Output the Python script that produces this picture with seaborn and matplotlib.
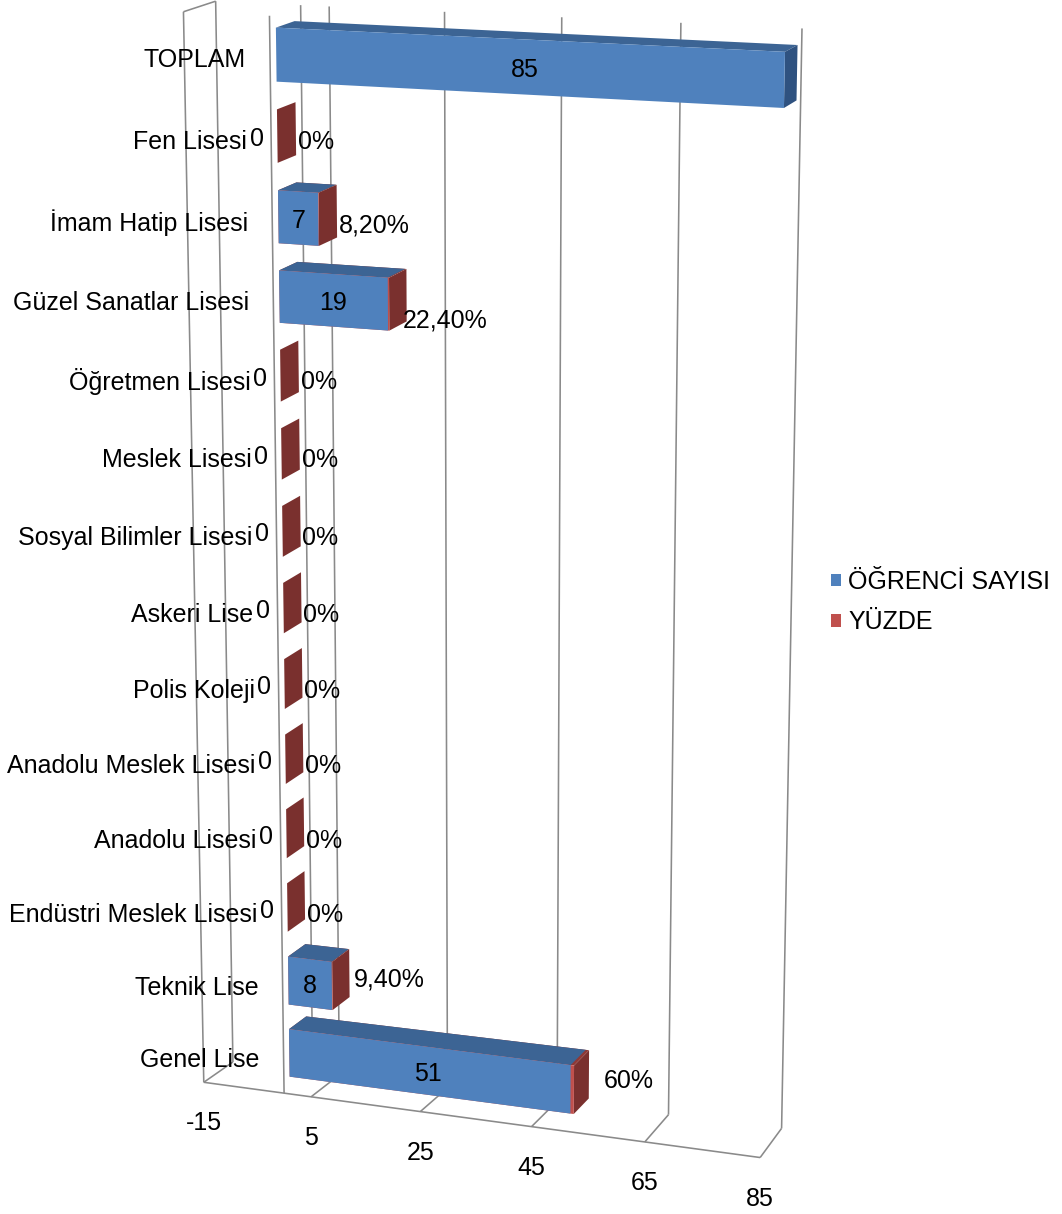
import numpy as np
import pandas as pd
import matplotlib
matplotlib.use("Agg")
import matplotlib.pyplot as plt
import matplotlib.transforms as mtransforms
from matplotlib.patches import Polygon, Patch
import seaborn as sns

# ---------------------------------------------------------------- data
categories = ["TOPLAM", "Fen Lisesi", "İmam Hatip Lisesi", "Güzel Sanatlar Lisesi",
              "Öğretmen Lisesi", "Meslek Lisesi", "Sosyal Bilimler Lisesi", "Askeri Lise",
              "Polis Koleji", "Anadolu Meslek Lisesi", "Anadolu Lisesi",
              "Endüstri Meslek Lisesi", "Teknik Lise", "Genel Lise"]
ogrenci_sayisi = [85, 0, 7, 19, 0, 0, 0, 0, 0, 0, 0, 0, 8, 51]
yuzde = [np.nan, 0.0, 0.082, 0.224, 0.0, 0.0, 0.0, 0.0, 0.0, 0.0, 0.0, 0.0, 0.094, 0.60]
value_ticks = [-15, 5, 25, 45, 65, 85]
series_names = ["ÖĞRENCİ SAYISI", "YÜZDE"]

# ---------------------------------------------------------------- style
W, H, DPI = 1062, 1214, 100
BLUE, BLUE_TOP, BLUE_SIDE = "#4F81BD", "#3C6494", "#2F5280"
RED, RED_TOP, RED_SIDE = "#C0504D", "#8E3936", "#7A302E"
GRID = "#8A8A8A"
FONT = 18
Z_FRONT, Z_BACK = 0.2, 0.8          # bar depth inside the 3-D box
BAR_W = 0.66

sns.set_theme(style="white")
plt.rcParams["font.family"] = ["Liberation Sans", "DejaVu Sans"]

# ---------------------------------------------------------------- 3-D box projection
# Corners of the front (z=0) and back (z=1) planes of the plot box, in pixels.
VMIN, VMAX = value_ticks[0], value_ticks[-1]
N = len(categories)
front_src = [(VMIN, N), (VMIN, 0), (0, N), (0, 0), (VMAX, 0), (VMAX, N)]
front_dst = [(183, 12), (203, 1082), (270, 16), (285, 1093), (760, 1158), (781, 39)]
back_src = [(VMIN, N), (5, N), (25, N), (45, N), (65, N), (VMAX, N),
            (VMIN, 0), (65, 0), (VMAX, 0)]
back_dst = [(216, 1), (329, 6), (444, 12), (562, 17), (681, 23), (802, 29),
            (233, 1063), (668, 1112), (782, 1130)]


def fit_homography(src, dst):
    src = np.asarray(src, float)
    dst = np.asarray(dst, float)
    so, ss = src.mean(0), src.std(0)
    do, ds = dst.mean(0), dst.std(0)
    S = np.array([[1 / ss[0], 0, -so[0] / ss[0]], [0, 1 / ss[1], -so[1] / ss[1]], [0, 0, 1]])
    D = np.array([[1 / ds[0], 0, -do[0] / ds[0]], [0, 1 / ds[1], -do[1] / ds[1]], [0, 0, 1]])
    sn = (src - so) / ss
    dn = (dst - do) / ds
    rows = []
    for (x, y), (u, v) in zip(sn, dn):
        rows.append([x, y, 1, 0, 0, 0, -u * x, -u * y, -u])
        rows.append([0, 0, 0, x, y, 1, -v * x, -v * y, -v])
    _, _, vt = np.linalg.svd(np.array(rows))
    hm = np.linalg.inv(D) @ vt[-1].reshape(3, 3) @ S
    return hm / hm[2, 2]


H_FRONT = fit_homography(front_src, front_dst)
H_BACK = fit_homography(back_src, back_dst)


def apply_h(hm, v, c):
    p = hm @ np.vstack([v, c, np.ones_like(v)])
    return (p[:2] / p[2]).T


def project(v, c, z):
    v, c = np.broadcast_arrays(np.atleast_1d(np.asarray(v, float)),
                               np.atleast_1d(np.asarray(c, float)))
    return (1 - z) * apply_h(H_FRONT, v, c) + z * apply_h(H_BACK, v, c)


def pt(v, c, z):
    return tuple(project(v, c, z)[0])


class Perspective(mtransforms.Transform):
    """(value, category index) on a plane of depth z -> pixel position."""
    input_dims = 2
    output_dims = 2
    is_separable = False
    has_inverse = False

    def __init__(self, z):
        super().__init__()
        self.z = z

    def transform_non_affine(self, values):
        values = np.asarray(values, float)
        return project(values[:, 0], (N - 0.5) - values[:, 1], self.z)


fig = plt.figure(figsize=(W / DPI, H / DPI), dpi=DPI)
pix = mtransforms.Affine2D().scale(1 / DPI, -1 / DPI).translate(0, H / DPI) + fig.dpi_scale_trans
ax = fig.add_axes([0, 0, 1, 1])

# ---------------------------------------------------------------- walls and grid
def seg(p0, p1):
    ax.plot([p0[0], p1[0]], [p0[1], p1[1]], transform=pix, color=GRID, lw=1.15,
            zorder=0.3, solid_capstyle="butt", clip_on=False)

seg(pt(VMIN, 0, 0), pt(VMIN, N, 0))           # side wall, front edge
seg(pt(VMIN, N, 0), pt(VMIN, N, 1))           # side wall, top edge
seg(pt(VMIN, 0, 0), pt(VMIN, 0, 1))           # side wall, bottom edge
seg(pt(VMIN, 0, 0), pt(VMAX, 0, 0))           # floor, front edge
seg(pt(0, 0, 0), pt(0, N, 0))                 # category axis at 0
seg(pt(0, 0, 1), pt(0, N, 1))
for t in value_ticks:
    seg(pt(t, 0, 1), pt(t, N, 1))             # back-wall gridlines
    if t != VMIN:
        seg(pt(t, 0, 0), pt(t, 0, 1))         # floor gridlines

# ---------------------------------------------------------------- bars
df = pd.DataFrame({"okul": categories, "sayi": ogrenci_sayisi, "yuzde": yuzde})
df["toplam"] = df["sayi"] + df["yuzde"]

sns.barplot(data=df, x="toplam", y="okul", order=categories, orient="h", color=RED,
            saturation=1, width=BAR_W, linewidth=0, errorbar=None, ax=ax)
n_red = len(ax.patches)
sns.barplot(data=df, x="sayi", y="okul", order=categories, orient="h", color=BLUE,
            saturation=1, width=BAR_W, linewidth=0, errorbar=None, ax=ax)
red_bars = {int(round(p.get_y() + p.get_height() / 2)): p for p in ax.patches[:n_red]}
blue_bars = {int(round(p.get_y() + p.get_height() / 2)): p for p in ax.patches[n_red:]}

front_tr = Perspective(Z_FRONT) + pix
for p in ax.patches:
    p.set_transform(front_tr)
    p.set_clip_on(False)
    p.set_zorder(1)


def faces(p):
    v0, v1 = p.get_x(), p.get_x() + p.get_width()
    ct = (N - 0.5) - p.get_y()
    cb = ct - p.get_height()
    top = [pt(v0, ct, Z_FRONT), pt(v1, ct, Z_FRONT), pt(v1, ct, Z_BACK), pt(v0, ct, Z_BACK)]
    side = [pt(v1, ct, Z_FRONT), pt(v1, cb, Z_FRONT), pt(v1, cb, Z_BACK), pt(v1, ct, Z_BACK)]
    return top, side


for i in range(N):
    r, b = red_bars.get(i), blue_bars.get(i)
    if r is not None:
        top, side = faces(r)
        ax.add_patch(Polygon(top, closed=True, transform=pix, fc=RED_TOP, ec="none",
                             zorder=0.8, clip_on=False))
    if b is not None and b.get_width() > 0:
        top, side_b = faces(b)
        ax.add_patch(Polygon(top, closed=True, transform=pix, fc=BLUE_TOP, ec="none",
                             zorder=0.85, clip_on=False))
    if r is not None:
        _, side = faces(r)
        ax.add_patch(Polygon(side, closed=True, transform=pix, fc=RED_SIDE, ec="none",
                             zorder=0.9, clip_on=False))
    elif b is not None:
        _, side = faces(b)
        ax.add_patch(Polygon(side, closed=True, transform=pix, fc=BLUE_SIDE, ec="none",
                             zorder=0.9, clip_on=False))

ax.set_xlim(-1, 1)
ax.set_ylim(-1, 1)
ax.axis("off")

# ---------------------------------------------------------------- text
def text(xy, s, dx=0, dy=0, **kw):
    ax.text(xy[0] + dx, xy[1] + dy, s, transform=pix, fontsize=FONT, color="black",
            zorder=5, clip_on=False, **kw)


def pct_label(f):
    p = f * 100
    if abs(p - round(p)) < 1e-9:
        return f"{int(round(p))}%"
    return f"{p:.2f}%".replace(".", ",")


pct_nudge = {"Güzel Sanatlar Lisesi": (-6, 10), "Teknik Lise": (2, -14), "Genel Lise": (13, -17)}

for i, name in enumerate(categories):
    c = (N - 0.5) - i
    text(pt(0, c, 0), name, dx=-24, dy=3, ha="right", va="center")
    n = ogrenci_sayisi[i]
    if n > 0:
        text(pt(n / 2, c, Z_FRONT), f"{n}", dy=3, ha="center", va="center")
    else:
        text(pt(0, c, Z_FRONT), "0", dx=-20, dy=3, ha="center", va="center")
    f = yuzde[i]
    if not np.isnan(f):
        tot = n + f
        x_end = pt(tot, c, Z_BACK)[0]
        y_mid = pt(tot, c, 0)[1]
        ndx, ndy = pct_nudge.get(name, (0, 0))
        text((x_end, y_mid), pct_label(f), dx=2 + ndx, dy=3 + ndy, ha="left", va="center")

for t in value_ticks:
    text(pt(t, 0, 0), f"{t}", dy=41, ha="center", va="center")

fig.legend(handles=[Patch(facecolor=BLUE, edgecolor="none"), Patch(facecolor=RED, edgecolor="none")],
           labels=series_names, loc="center left", bbox_to_anchor=(821 / W, 1 - 602 / H),
           frameon=False, fontsize=FONT, labelcolor="black", handlelength=0.4, handleheight=0.4,
           handletextpad=0.3, labelspacing=0.65, borderaxespad=0)

fig.savefig("out.png", dpi=DPI, facecolor="white")
